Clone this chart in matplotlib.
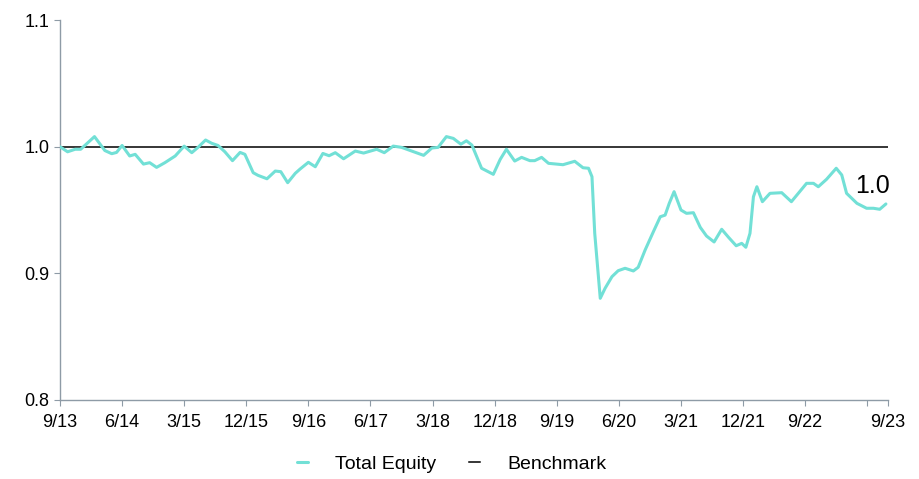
import numpy as np
import matplotlib
matplotlib.use("Agg")
import matplotlib.pyplot as plt

plt.rcParams['font.family'] = ['Liberation Sans Narrow', 'Liberation Sans', 'DejaVu Sans']

# Meses desde 9/13 y valor relativo del Total Equity
meses = [0, 1.1, 2.2, 3.0, 5.0, 6.5, 7.5, 8.2, 9.0, 10.1, 10.9, 12.1, 13.0, 14.0,
         15.2, 16.7, 18.0, 19.1, 20.0, 21.1, 22.0, 22.9, 23.9, 25.0, 26.1, 26.8,
         28.0, 28.7, 30.0, 31.2, 32.0, 33.0, 34.1, 34.8, 36.0, 37.0, 38.1, 39.0,
         39.9, 41.1, 42.8, 44.0, 45.9, 47.0, 48.3, 49.5, 52.7, 53.9, 54.8, 56.0,
         57.0, 58.1, 58.9, 59.7, 61.1, 62.8, 63.8, 64.7, 65.9, 66.9, 68.1, 68.8,
         69.8, 70.8, 72.9, 74.6, 75.8, 76.6, 77.1, 77.5, 78.3, 79.0, 80.0, 80.9,
         81.9, 83.1, 83.8, 84.8, 86.0, 87.0, 87.7, 88.3, 89.0, 90.0, 90.8, 91.8,
         92.8, 93.7, 94.8, 95.9, 96.9, 98.0, 98.8, 99.4, 100.0, 100.5, 101.0,
         101.8, 102.9, 104.6, 106.0, 107.2, 108.2, 109.2, 109.9, 111.1, 112.5,
         113.3, 114.0, 115.5, 116.9, 117.9, 118.8, 119.7]
total_equity = [1.000, 0.996, 0.998, 0.998, 1.008, 0.997, 0.9945, 0.9955, 1.001,
                0.9927, 0.994, 0.9863, 0.9874, 0.9837, 0.9874, 0.9927, 1.0005,
                0.9953, 0.9995, 1.0053, 1.0027, 1.001, 0.996, 0.989, 0.9955, 0.994,
                0.9795, 0.9774, 0.9747, 0.9808, 0.9803, 0.9716, 0.979, 0.9824,
                0.9877, 0.9842, 0.9947, 0.9929, 0.9953, 0.9905, 0.9966, 0.995,
                0.998, 0.9953, 1.0005, 0.9995, 0.9932, 0.999, 0.9995, 1.008,
                1.0066, 1.002, 1.0047, 1.0013, 0.983, 0.9782, 0.990, 0.998, 0.9887,
                0.9916, 0.989, 0.989, 0.9916, 0.9869, 0.9858, 0.9885, 0.9834,
                0.983, 0.9763, 0.9316, 0.8803, 0.8882, 0.8974, 0.9021, 0.904,
                0.9019, 0.9048, 0.9184, 0.9329, 0.9447, 0.946, 0.9553, 0.9645,
                0.950, 0.9474, 0.9479, 0.9363, 0.9295, 0.9248, 0.9348, 0.9284,
                0.9218, 0.9237, 0.9206, 0.9316, 0.9605, 0.9684, 0.9566, 0.9632,
                0.9637, 0.9566, 0.9645, 0.9711, 0.9711, 0.9684, 0.9743, 0.983,
                0.9777, 0.9632, 0.9553, 0.9514, 0.9514, 0.9506, 0.9548]
benchmark_meses = [0, 120]
benchmark = [1.0, 1.0]

tick_meses = [0, 9, 18, 27, 36, 45, 54, 63, 72, 81, 90, 99, 108, 117, 120]
tick_labels = ["9/13", "6/14", "3/15", "12/15", "9/16", "6/17", "3/18", "12/18",
               "9/19", "6/20", "3/21", "12/21", "9/22", "", "9/23"]
y_ticks = [0.8, 0.9, 1.0, 1.1]

color_te = "#72e0d6"
color_eje = "#8e9ba6"

fig = plt.figure(figsize=(9.2, 4.79), dpi=100)
ax = fig.add_axes([0.0652, 0.165, 0.9, 0.793])

ax.plot(meses, total_equity, color=color_te, lw=2.2, solid_joinstyle="round",
        solid_capstyle="round", label="Total Equity", zorder=3)
ax.plot(benchmark_meses, benchmark, color="black", lw=1.1, label="Benchmark", zorder=2)

ax.text(meses[-1] - 2, 0.969, "1.0", fontsize=18, ha="center", va="center")

ax.set_xlim(0, 120)
ax.set_ylim(0.8, 1.1)
ax.set_xticks(tick_meses)
ax.set_xticklabels(tick_labels)
ax.set_yticks(y_ticks)
ax.set_yticklabels([f"{v:.1f}" for v in y_ticks])

for s in ["top", "right"]:
    ax.spines[s].set_visible(False)
for s in ["left", "bottom"]:
    ax.spines[s].set_color(color_eje)
    ax.spines[s].set_linewidth(1.0)
ax.tick_params(axis="both", colors=color_eje, labelcolor="black", labelsize=13,
               length=4, width=0.8)
ax.tick_params(axis="x", pad=6)

ax.legend(loc="upper center", bbox_to_anchor=(0.473, -0.1), ncol=2, frameon=False,
          fontsize=14, handlelength=0.6, handletextpad=1.4, columnspacing=1.65)

fig.savefig("out.png", dpi=100)
